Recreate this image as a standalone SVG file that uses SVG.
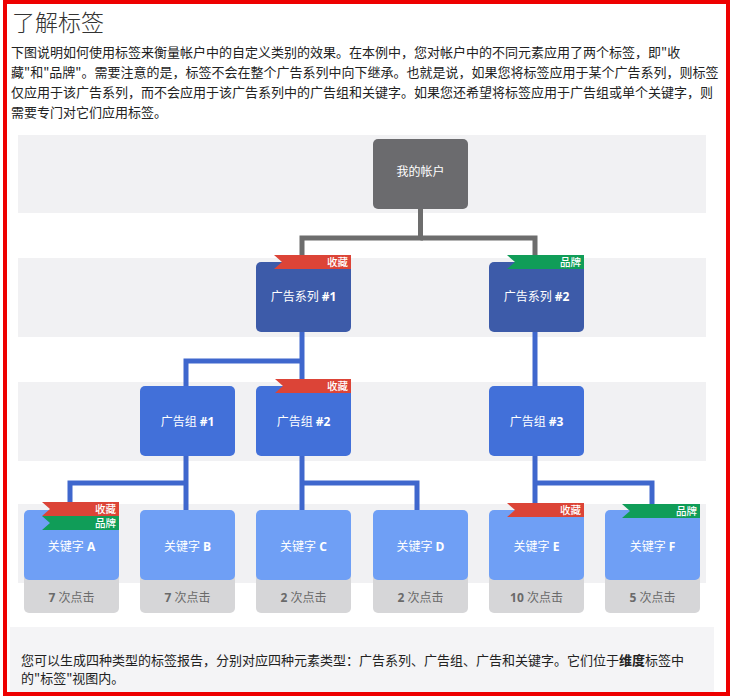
<svg xmlns="http://www.w3.org/2000/svg" width="732" height="697" viewBox="0 0 732 697">
<style>
.para{font-family:"Noto Sans CJK SC","Noto Sans",sans-serif;font-size:13px;fill:#222}
.title{font-family:"Noto Sans CJK SC","Noto Sans",sans-serif;font-size:23px;font-weight:300;fill:#333}
.band{fill:#f1f1f3}
.lbl{font-family:"Open Sans","Noto Sans CJK SC",sans-serif;font-size:12px;fill:#fff;text-anchor:middle}
.clk{font-family:"Open Sans","Noto Sans CJK SC",sans-serif;font-size:12px;fill:#6a6a6a;text-anchor:middle}
.b{font-weight:700}
.acct{fill:#6b6b6e}
.camp{fill:#3d5ba9}
.grp{fill:#4270d9}
.kw{fill:#6f9ff5}
.cbox{fill:#d6d6d8}
.red{fill:#dc4437}
.green{fill:#109d58}
.tagt{font-family:"Noto Sans CJK SC",sans-serif;font-size:10.5px;font-weight:500;fill:#fff;text-anchor:end}
.cg{fill:none;stroke:#6d6d6d;stroke-width:5}
.cb{fill:none;stroke:#3f67cd;stroke-width:5}
</style>
<rect x="0" y="0" width="732" height="697" fill="#fff"/>
<text class="title" x="12" y="31">了解标签</text>
<text class="para" x="11" y="57">下图说明如何使用标签来衡量帐户中的自定义类别的效果。在本例中，您对帐户中的不同元素应用了两个标签，即"收</text>
<text class="para" x="11" y="77">藏"和"品牌"。需要注意的是，标签不会在整个广告系列中向下继承。也就是说，如果您将标签应用于某个广告系列，则标签</text>
<text class="para" x="11" y="96.5">仅应用于该广告系列，而不会应用于该广告系列中的广告组和关键字。如果您还希望将标签应用于广告组或单个关键字，则</text>
<text class="para" x="11" y="116.5">需要专门对它们应用标签。</text>

<g id="bands">
<rect class="band" x="18" y="135" width="688" height="78"/>
<rect class="band" x="18" y="258" width="688" height="79"/>
<rect class="band" x="18" y="382" width="688" height="79"/>
<rect class="band" x="18" y="504" width="688" height="79"/>
</g>

<g id="connectors">
<polyline class="cg" points="420.5,208 420.5,238 302,238 302,256"/>
<polyline class="cg" points="420.5,238 535,238 535,256"/>
<polyline class="cb" points="302,331 302,380"/>
<polyline class="cb" points="302,361 186,361 186,386"/>
<polyline class="cb" points="535,331 535,386"/>
<polyline class="cb" points="186,456 186,510"/>
<polyline class="cb" points="186,483 70,483 70,503"/>
<polyline class="cb" points="302,456 302,510"/>
<polyline class="cb" points="302,483 417,483 417,510"/>
<polyline class="cb" points="535,456 535,503"/>
<polyline class="cb" points="535,483 652,483 652,504"/>
</g>

<g id="account">
<rect class="acct" x="373" y="139" width="95" height="70" rx="5"/>
<text class="lbl" x="420.5" y="176">我的帐户</text>
</g>

<g id="campaign1">
<rect class="camp" x="256" y="262" width="95" height="70" rx="5"/>
<text class="lbl" x="303.5" y="301">广告系列 <tspan class="b">#1</tspan></text>
<path class="red" d="M274,255H351V269H274l8,-7Z"/>
<text class="tagt" x="348" y="266">收藏</text>
</g>

<g id="campaign2">
<rect class="camp" x="489" y="262" width="95" height="70" rx="5"/>
<text class="lbl" x="536.5" y="301">广告系列 <tspan class="b">#2</tspan></text>
<path class="green" d="M507,255H584V269H507l8,-7Z"/>
<text class="tagt" x="581" y="266">品牌</text>
</g>

<g id="adgroup1">
<rect class="grp" x="140" y="386" width="95" height="70" rx="5"/>
<text class="lbl" x="187.5" y="426">广告组 <tspan class="b">#1</tspan></text>
</g>

<g id="adgroup2">
<rect class="grp" x="256" y="386" width="95" height="70" rx="5"/>
<text class="lbl" x="303.5" y="426">广告组 <tspan class="b">#2</tspan></text>
<path class="red" d="M275,379H351V393H275l8,-7Z"/>
<text class="tagt" x="348" y="390">收藏</text>
</g>

<g id="adgroup3">
<rect class="grp" x="489" y="386" width="95" height="70" rx="5"/>
<text class="lbl" x="536.5" y="426">广告组 <tspan class="b">#3</tspan></text>
</g>

<g id="keywordA">
<rect class="cbox" x="24" y="570" width="95" height="43" rx="5"/>
<rect class="kw" x="24" y="510" width="95" height="70" rx="5"/>
<text class="lbl" x="71.5" y="551">关键字 <tspan class="b">A</tspan></text>
<text class="clk" x="71.5" y="602"><tspan class="b">7</tspan> 次点击</text>
<path class="red" d="M42,502H119V516H42l8,-7Z"/>
<text class="tagt" x="116" y="513">收藏</text>
<path class="green" d="M42,516H119V530H42l8,-7Z"/>
<text class="tagt" x="116" y="527">品牌</text>
</g>

<g id="keywordB">
<rect class="cbox" x="140" y="570" width="95" height="43" rx="5"/>
<rect class="kw" x="140" y="510" width="95" height="70" rx="5"/>
<text class="lbl" x="187.5" y="551">关键字 <tspan class="b">B</tspan></text>
<text class="clk" x="187.5" y="602"><tspan class="b">7</tspan> 次点击</text>
</g>

<g id="keywordC">
<rect class="cbox" x="256" y="570" width="95" height="43" rx="5"/>
<rect class="kw" x="256" y="510" width="95" height="70" rx="5"/>
<text class="lbl" x="303.5" y="551">关键字 <tspan class="b">C</tspan></text>
<text class="clk" x="303.5" y="602"><tspan class="b">2</tspan> 次点击</text>
</g>

<g id="keywordD">
<rect class="cbox" x="373" y="570" width="95" height="43" rx="5"/>
<rect class="kw" x="373" y="510" width="95" height="70" rx="5"/>
<text class="lbl" x="420.5" y="551">关键字 <tspan class="b">D</tspan></text>
<text class="clk" x="420.5" y="602"><tspan class="b">2</tspan> 次点击</text>
</g>

<g id="keywordE">
<rect class="cbox" x="489" y="570" width="95" height="43" rx="5"/>
<rect class="kw" x="489" y="510" width="95" height="70" rx="5"/>
<text class="lbl" x="536.5" y="551">关键字 <tspan class="b">E</tspan></text>
<text class="clk" x="536.5" y="602"><tspan class="b">10</tspan> 次点击</text>
<path class="red" d="M507,503H584V517H507l8,-7Z"/>
<text class="tagt" x="581" y="514">收藏</text>
</g>

<g id="keywordF">
<rect class="cbox" x="605" y="570" width="95" height="43" rx="5"/>
<rect class="kw" x="605" y="510" width="95" height="70" rx="5"/>
<text class="lbl" x="652.5" y="551">关键字 <tspan class="b">F</tspan></text>
<text class="clk" x="652.5" y="602"><tspan class="b">5</tspan> 次点击</text>
<path class="green" d="M622,504H700V518H622l8,-7Z"/>
<text class="tagt" x="697" y="515">品牌</text>
</g>

<rect x="10" y="627" width="704" height="66" fill="#f4f4f6"/>
<text class="para" x="21" y="664.5">您可以生成四种类型的标签报告，分别对应四种元素类型：广告系列、广告组、广告和关键字。它们位于<tspan font-weight="700">维度</tspan>标签中</text>
<text class="para" x="21" y="683">的"标签"视图内。</text>

<rect x="5" y="2" width="723" height="692" fill="none" stroke="#ee0000" stroke-width="4"/>
</svg>
